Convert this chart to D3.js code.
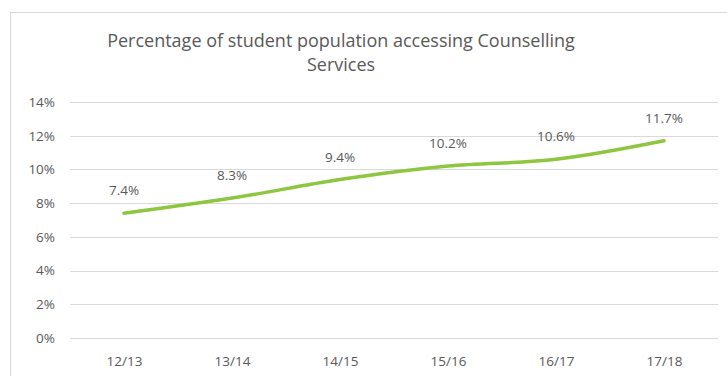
<!DOCTYPE html>
<html>
<head>
<meta charset="utf-8">
<script src="https://cdn.jsdelivr.net/npm/d3@7"></script>
<style>
  body { margin: 0; background: #fff; }
  svg { display: block; font-family: "Open Sans", sans-serif; }
</style>
</head>
<body>
<svg id="chart" width="727" height="376"></svg>
<script>
// ============= Data =============
const years = ["12/13", "13/14", "14/15", "15/16", "16/17", "17/18"];
const percentages = [7.4, 8.3, 9.4, 10.2, 10.6, 11.7];
const yTicks = [0, 2, 4, 6, 8, 10, 12, 14];
const titleLines = ["Percentage of student population accessing Counselling", "Services"];

const LINE_COLOR = "#8dc63f";
const GRID_COLOR = "#d9d9d9";
const TEXT_COLOR = "#595959";
const FONT_SIZE = "13.5px";

const svg = d3.select("#chart");

// outer chart border
svg.append("rect")
  .attr("x", 10.5).attr("y", 12.5)
  .attr("width", 730).attr("height", 380)
  .attr("fill", "none")
  .attr("stroke", "#d9d9d9");

const MARGIN = { LEFT: 70, TOP: 102, RIGHT: 9 };
const width = 727 - MARGIN.LEFT - MARGIN.RIGHT;
const height = 236;

const g = svg.append("g").attr("transform", `translate(${MARGIN.LEFT},${MARGIN.TOP})`);

const xScale = d3.scalePoint().domain(years).range([0, width]).padding(0.5);
const yScale = d3.scaleLinear().domain([0, 14]).range([height, 0]);

// grid lines
g.selectAll(".grid-line")
  .data(yTicks)
  .enter()
  .append("line")
  .attr("class", "grid-line")
  .attr("x1", 0)
  .attr("x2", width)
  .attr("y1", (d) => Math.round(yScale(d)) + 0.5)
  .attr("y2", (d) => Math.round(yScale(d)) + 0.5)
  .attr("stroke", GRID_COLOR)
  .attr("stroke-width", 1);

// axes (text only)
const yAxis = g.append("g")
  .call(d3.axisLeft(yScale).tickValues(yTicks).tickFormat((d) => d + "%").tickSize(0).tickPadding(15));
const xAxis = g.append("g")
  .attr("transform", `translate(0,${height})`)
  .call(d3.axisBottom(xScale).tickSize(0).tickPadding(18));

[xAxis, yAxis].forEach((axis) => {
  axis.select(".domain").remove();
  axis.selectAll("text")
    .style("font-size", FONT_SIZE)
    .style("fill", TEXT_COLOR)
    .style("font-family", "Open Sans, sans-serif");
});

// line
const points = years.map((y, i) => ({ year: y, value: percentages[i] }));
const line = d3.line()
  .x((d) => xScale(d.year))
  .y((d) => yScale(d.value))
  .curve(d3.curveMonotoneX);

g.append("path")
  .datum(points)
  .attr("d", line)
  .attr("fill", "none")
  .attr("stroke", LINE_COLOR)
  .attr("stroke-width", 3.5)
  .attr("stroke-linecap", "round");

// data labels
g.selectAll(".data-label")
  .data(points)
  .enter()
  .append("text")
  .attr("class", "data-label")
  .attr("x", (d) => xScale(d.year))
  .attr("y", (d) => yScale(d.value) - 18)
  .attr("text-anchor", "middle")
  .style("font-size", FONT_SIZE)
  .style("fill", TEXT_COLOR)
  .text((d) => d.value.toFixed(1) + "%");

// title
svg.append("g")
  .selectAll("text")
  .data(titleLines)
  .enter()
  .append("text")
  .attr("x", 341)
  .attr("y", (d, i) => 47 + i * 24)
  .attr("text-anchor", "middle")
  .style("font-size", "18px")
  .style("fill", TEXT_COLOR)
  .text((d) => d);
</script>
</body>
</html>
